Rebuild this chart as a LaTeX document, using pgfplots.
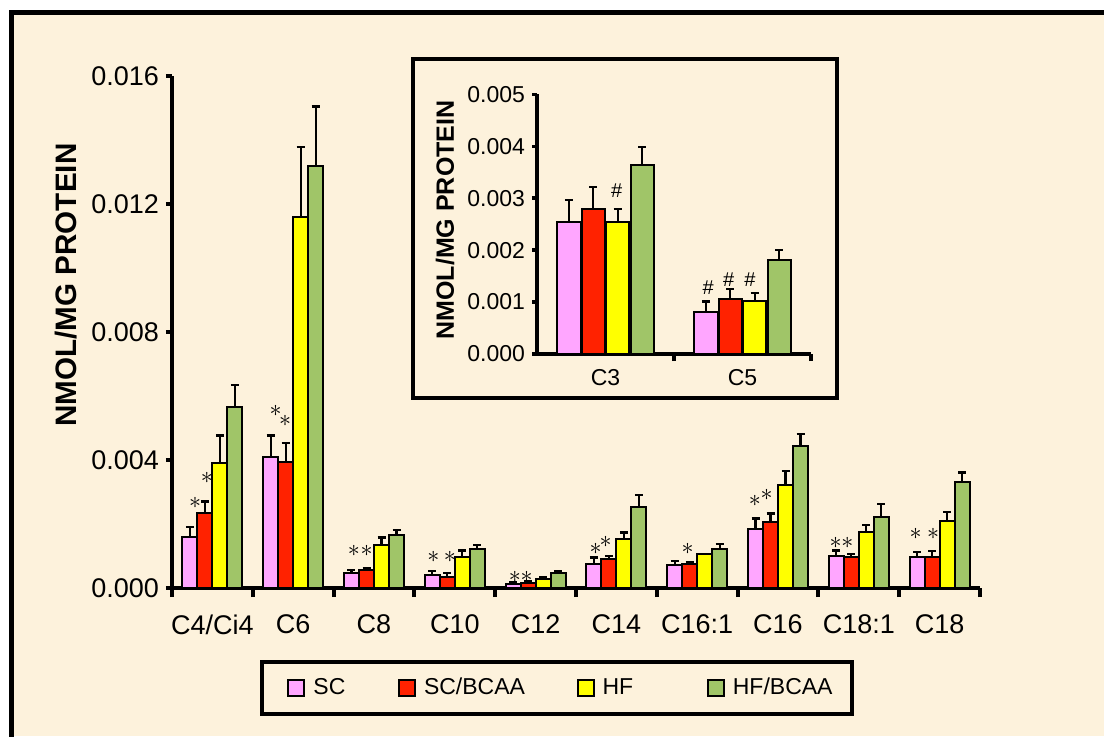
\documentclass[border=0pt]{standalone}
\usepackage{fontspec}
\setmainfont{Liberation Sans}
\usepackage{pgfplots}
\pgfplotsset{compat=1.18}
\usepackage{pgfplotstable}
\definecolor{cream}{RGB}{253,242,220}
\definecolor{cpink}{RGB}{255,166,255}
\definecolor{cred}{RGB}{255,34,0}
\definecolor{cyellow}{RGB}{255,255,0}
\definecolor{cgreen}{RGB}{160,197,104}

\pgfplotstableread{
x y e
0.5 0.00160 0.00030
1.5 0.00408 0.00068
2.5 0.00046 0.00010
3.5 0.00042 0.00011
4.5 0.000125 0.00006
5.5 0.00075 0.00020
6.5 0.00072 0.00013
7.5 0.00183 0.00034
8.5 0.00101 0.00016
9.5 0.00098 0.00015
}\mainSC
\pgfplotstableread{
x y e
0.5 0.00233 0.00037
1.5 0.00393 0.00061
2.5 0.00056 0.00006
3.5 0.00035 0.00011
4.5 0.00015 0.00005
5.5 0.00090 0.00010
6.5 0.00075 0.00005
7.5 0.00207 0.00026
8.5 0.00098 0.00008
9.5 0.00098 0.00017
}\mainSCB
\pgfplotstableread{
x y e
0.5 0.00390 0.00086
1.5 0.01160 0.00218
2.5 0.00134 0.00024
3.5 0.00096 0.00021
4.5 0.00027 0.00006
5.5 0.00154 0.00019
6.5 0.00106 0.00000
7.5 0.00322 0.00044
8.5 0.00176 0.00020
9.5 0.00210 0.00027
}\mainHF
\pgfplotstableread{
x y e
0.5 0.00567 0.00067
1.5 0.01319 0.00186
2.5 0.00166 0.00015
3.5 0.00121 0.00013
4.5 0.00048 0.00006
5.5 0.00254 0.00036
6.5 0.00121 0.00017
7.5 0.00445 0.00036
8.5 0.00221 0.00042
9.5 0.00332 0.00029
}\mainHFB

\pgfplotstableread{
x y e
0.5 0.00255 0.00042
1.5 0.00080 0.00021
}\insSC
\pgfplotstableread{
x y e
0.5 0.00279 0.00043
1.5 0.00105 0.00020
}\insSCB
\pgfplotstableread{
x y e
0.5 0.00255 0.00024
1.5 0.00103 0.00014
}\insHF
\pgfplotstableread{
x y e
0.5 0.00364 0.00034
1.5 0.00181 0.00019
}\insHFB

\pgfplotsset{
  errs/.style={error bars/.cd, y dir=plus, y explicit,
    error bar style={line width=1.1pt, black},
    error mark options={rotate=90, line width=1.2pt, mark size=2pt, black}},
}

\begin{document}
\begin{tikzpicture}
\path[use as bounding box] (0,0) rectangle (552pt,368pt);
\fill[white] (0,0) rectangle (552pt,368pt);
\fill[cream] (6pt,0) rectangle (552pt,362pt);
\draw[line width=2.4pt] (5.9pt,-2pt) -- (5.9pt,361.8pt) -- (554pt,361.8pt);
% inset frame
\draw[line width=2.4pt] (206.5pt,169pt) rectangle (418.5pt,338.5pt);
% legend frame
\draw[line width=2.2pt] (131pt,11pt) rectangle (426pt,37pt);
% y labels
\node[rotate=90, font=\bfseries\fontsize{14.8}{17}\selectfont] at (33pt,225.5pt) {NMOL/MG PROTEIN};
\node[rotate=90, font=\bfseries\fontsize{12.5}{15}\selectfont] at (222.5pt,258pt) {NMOL/MG PROTEIN};

\begin{axis}[
  at={(86pt,74pt)}, anchor=south west, scale only axis,
  width=404pt, height=256pt,
  xmin=0, xmax=10, ymin=0, ymax=0.016,
  axis lines*=left, axis line style={line width=2pt, -},
  ytick={0,0.004,0.008,0.012,0.016},
  yticklabels={0.000,0.004,0.008,0.012,0.016},
  scaled y ticks=false,
  xtick={0.5,1.5,...,9.5},
  xticklabels={C4/Ci4,C6,C8,C10,C12,C14,C16:1,C16,C18:1,C18},
  minor xtick={0,1,...,10},
  tick align=outside,
  tick style={line width=2pt, black},
  major tick length=3pt, minor tick length=4.5pt,
  major x tick style={draw=none},
  ticklabel style={font=\fontsize{13.5}{16}\selectfont},
  xticklabel style={yshift=-7pt},
  /pgf/number format/assume math mode=true,
  ybar=0pt, bar width=7.5pt,
  every axis plot/.append style={draw=black, line width=1pt},
  legend style={at={(0.4827,-0.1953)}, anchor=center, draw=none, fill=none,
    legend columns=4, font=\fontsize{11.5}{14}\selectfont,
    /tikz/every odd column/.append style={column sep=2pt},
    /tikz/column 2/.style={column sep=24.3pt},
    /tikz/column 4/.style={column sep=23.8pt},
    /tikz/column 6/.style={column sep=34.8pt}},
  legend image code/.code={\draw[#1, line width=1pt] (0pt,-4pt) rectangle (8pt,4pt);},
]
\addplot[fill=cpink, errs] table[x=x, y=y, y error=e] {\mainSC};
\addplot[fill=cred, errs] table[x=x, y=y, y error=e] {\mainSCB};
\addplot[fill=cyellow, errs] table[x=x, y=y, y error=e] {\mainHF};
\addplot[fill=cgreen, errs] table[x=x, y=y, y error=e] {\mainHFB};
\legend{SC,SC/BCAA,HF,HF/BCAA}
\begin{scope}[font=\fontsize{12.5}{14}\selectfont, inner sep=0pt]
\node at (axis cs:0.285,0.00266) {$\ast$};
\node at (axis cs:0.433,0.00344) {$\ast$};
\node at (axis cs:1.283,0.00553) {$\ast$};
\node at (axis cs:1.40,0.00523) {$\ast$};
\node at (axis cs:2.25,0.00116) {$\ast$};
\node at (axis cs:2.41,0.00116) {$\ast$};
\node at (axis cs:3.234,0.00098) {$\ast$};
\node at (axis cs:3.44,0.00098) {$\ast$};
\node at (axis cs:4.245,0.00035) {$\ast$};
\node at (axis cs:4.39,0.00035) {$\ast$};
\node at (axis cs:5.244,0.00122) {$\ast$};
\node at (axis cs:5.367,0.00144) {$\ast$};
\node at (axis cs:6.382,0.00122) {$\ast$};
\node at (axis cs:7.215,0.00272) {$\ast$};
\node at (axis cs:7.36,0.0029) {$\ast$};
\node at (axis cs:8.214,0.0014) {$\ast$};
\node at (axis cs:8.358,0.0014) {$\ast$};
\node at (axis cs:9.204,0.00169) {$\ast$};
\node at (axis cs:9.42,0.00169) {$\ast$};
\end{scope}
\end{axis}

\begin{axis}[
  at={(268.5pt,191pt)}, anchor=south west, scale only axis,
  width=137pt, height=129.85pt,
  xmin=0, xmax=2, ymin=0, ymax=0.005,
  axis lines*=left, axis line style={line width=1.7pt, -},
  ytick={0,0.001,0.002,0.003,0.004,0.005},
  yticklabels={0.000,0.001,0.002,0.003,0.004,0.005},
  scaled y ticks=false,
  xtick={0.5,1.5}, xticklabels={C3,C5},
  minor xtick={1,2},
  tick align=outside,
  tick style={line width=1.7pt, black},
  major tick length=2.5pt, minor tick length=3.5pt,
  major x tick style={draw=none},
  ticklabel style={font=\fontsize{11.5}{14}\selectfont},
  xticklabel style={yshift=-1.5pt},
  /pgf/number format/assume math mode=true,
  ybar=0.6pt, bar width=11.6pt,
  every axis plot/.append style={draw=black, line width=1pt},
]
\addplot[fill=cpink, errs] table[x=x, y=y, y error=e] {\insSC};
\addplot[fill=cred, errs] table[x=x, y=y, y error=e] {\insSCB};
\addplot[fill=cyellow, errs] table[x=x, y=y, y error=e] {\insHF};
\addplot[fill=cgreen, errs] table[x=x, y=y, y error=e] {\insHFB};
\begin{scope}[font=\fontsize{10}{11}\selectfont]
\node at (axis cs:0.582,0.00315) {\#};
\node at (axis cs:1.25,0.00128) {\#};
\node at (axis cs:1.40,0.00144) {\#};
\node at (axis cs:1.555,0.00144) {\#};
\end{scope}
\end{axis}
\end{tikzpicture}
\end{document}
